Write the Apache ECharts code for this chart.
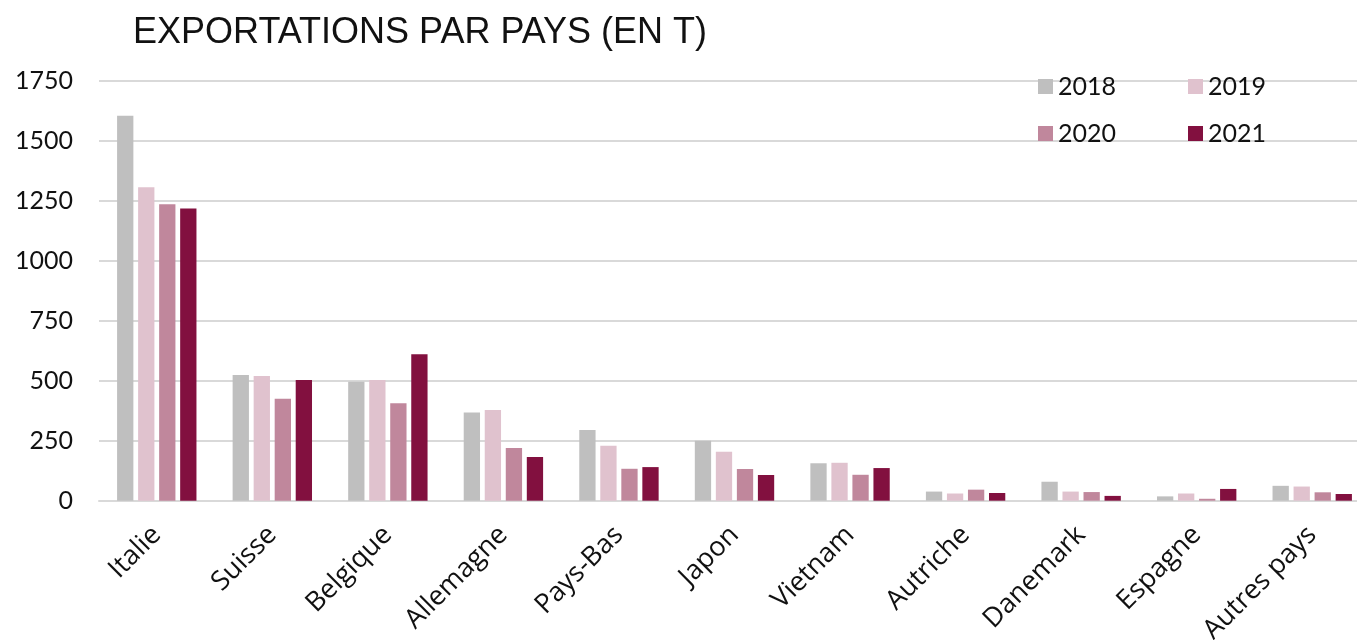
<!DOCTYPE html>
<html>
<head>
<meta charset="utf-8">
<script src="https://cdn.jsdelivr.net/npm/echarts@6/dist/echarts.min.js"></script>
<style>
html,body{margin:0;padding:0;background:#fff;}
#chart{width:1357px;height:640px;}
</style>
</head>
<body>
<div id="chart"></div>
<script>
const categories = ['Italie','Suisse','Belgique','Allemagne','Pays-Bas','Japon','Vietnam','Autriche','Danemark','Espagne','Autres pays'];
const years = ['2018','2019','2020','2021'];
const v2018 = [1604, 524, 496, 367, 295, 250, 156, 38, 79, 18, 62];
const v2019 = [1306, 520, 503, 378, 229, 204, 158, 30, 38, 30, 59];
const v2020 = [1235, 425, 406, 220, 133, 132, 108, 46, 36, 8, 35];
const v2021 = [1218, 503, 610, 182, 140, 107, 136, 32, 20, 49, 28];
const yTicks = [0, 250, 500, 750, 1000, 1250, 1500, 1750];
const colors = ['#bfbfbf', '#e0c2ce', '#c0879c', '#82103f'];

const seriesValues = [v2018, v2019, v2020, v2021];
const font = 'Lato, "Noto Sans", sans-serif';
const labelFont = '"Open Sans", "Noto Sans", sans-serif';

const chart = echarts.init(document.getElementById('chart'), null, {renderer: 'canvas'});
chart.setOption({
  animation: false,
  title: {
    text: 'EXPORTATIONS PAR PAYS (EN T)',
    left: 128, top: 10,
    textStyle: {fontFamily: '"Liberation Sans", Arial, sans-serif', fontSize: 36, fontWeight: 'normal', color: '#111'}
  },
  legend: [
    {data: [years[0], years[1]], left: 1033, top: 69, itemWidth: 15, itemHeight: 15, itemGap: 72,
     textStyle: {fontFamily: font, fontSize: 25, color: '#111'}, icon: 'rect'},
    {data: [years[2], years[3]], left: 1033, top: 116, itemWidth: 15, itemHeight: 15, itemGap: 72,
     textStyle: {fontFamily: font, fontSize: 25, color: '#111'}, icon: 'rect'}
  ],
  grid: {left: 99, top: 80.7, width: 1271, bottom: 139.3, containLabel: false, outerBoundsMode: 'none'},
  xAxis: {
    type: 'category', data: categories,
    axisLine: {show: true, lineStyle: {color: '#d9d9d9', width: 2}},
    axisTick: {show: false},
    axisLabel: {rotate: 45, margin: 30, fontFamily: labelFont, fontSize: 27, color: '#111', interval: 0}
  },
  yAxis: {
    type: 'value', min: yTicks[0], max: yTicks[yTicks.length-1], interval: 250,
    axisLine: {show: false}, axisTick: {show: false},
    splitLine: {lineStyle: {color: '#d9d9d9', width: 2}},
    axisLabel: {margin: 26, fontFamily: font, fontSize: 25, color: '#111', formatter: v => String(v)}
  },
  series: years.map((y, i) => ({
    name: y, type: 'bar', data: seriesValues[i],
    barWidth: 16.3, barGap: '29%',
    itemStyle: {color: colors[i]}
  }))
});
</script>
</body>
</html>
